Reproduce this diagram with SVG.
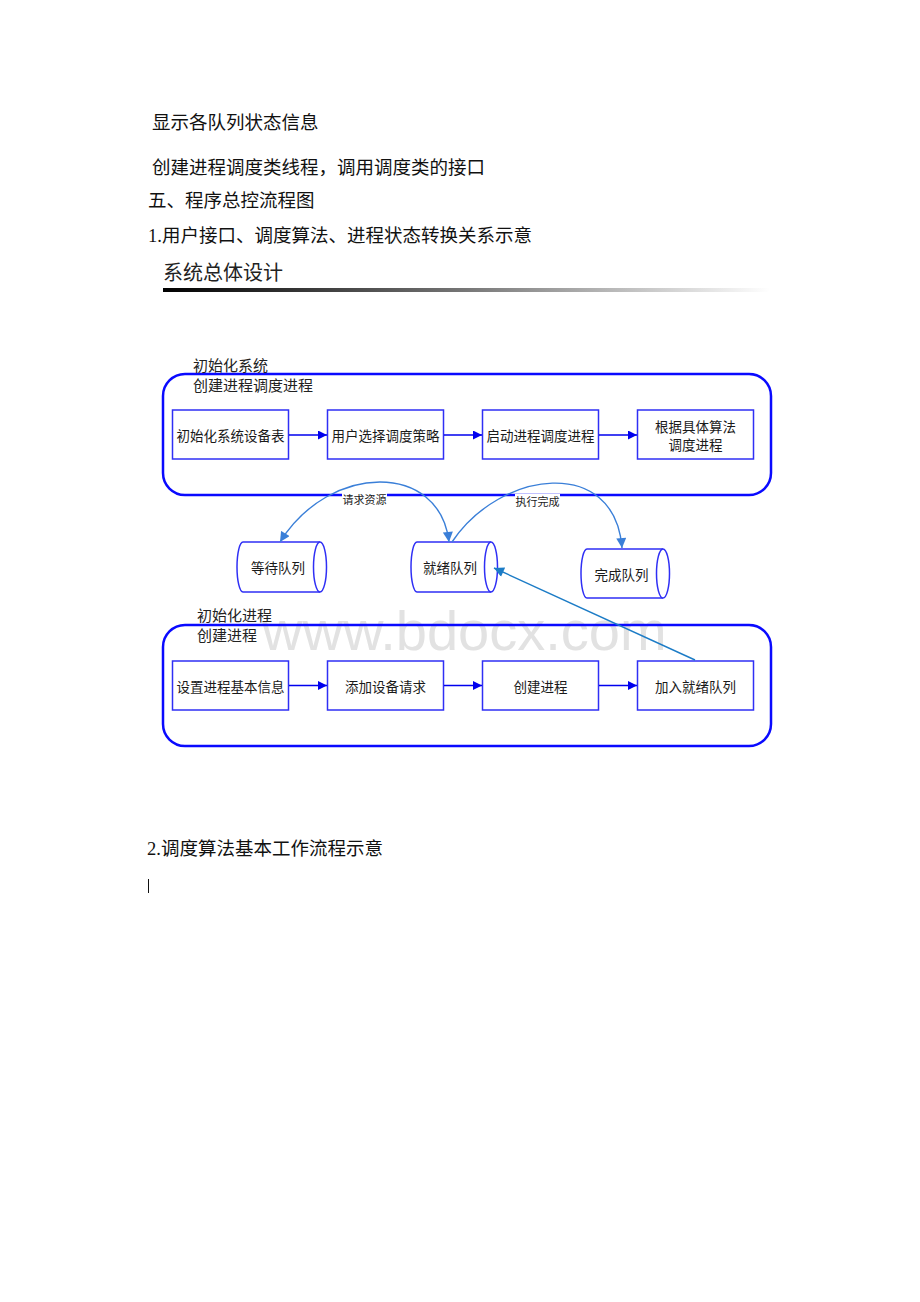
<svg xmlns="http://www.w3.org/2000/svg" width="920" height="1302" viewBox="0 0 920 1302">
<defs>
<linearGradient id="bar" x1="0" y1="0" x2="1" y2="0">
<stop offset="0" stop-color="#000"/>
<stop offset="0.5" stop-color="#777"/>
<stop offset="1" stop-color="#fff"/>
</linearGradient>
<marker id="ab" viewBox="0 0 10 10" refX="10" refY="5" markerWidth="9" markerHeight="9" markerUnits="userSpaceOnUse" orient="auto">
<path d="M0,0 L10,5 L0,10 Z" fill="#0000ee"/>
</marker>
<marker id="ac" viewBox="0 0 10 10" refX="10" refY="5" markerWidth="11" markerHeight="10" markerUnits="userSpaceOnUse" orient="auto-start-reverse">
<path d="M0,0 L10,5 L0,10 Z" fill="#3a7fd8"/>
</marker>
<marker id="as" viewBox="0 0 10 10" refX="10" refY="5" markerWidth="12" markerHeight="10" markerUnits="userSpaceOnUse" orient="auto">
<path d="M0,0 L10,5 L0,10 Z" fill="#1c7cc6"/>
</marker>
</defs>
<style>
.doc{font-family:"Liberation Serif","Noto Sans CJK SC",serif;font-size:18.5px;fill:#111}
.ttl{font-family:"Noto Sans CJK SC",sans-serif;font-size:20px;fill:#222}
.grp{font-family:"Noto Sans CJK SC",sans-serif;font-size:15px;fill:#222}
.lbl{font-family:"Noto Sans CJK SC",sans-serif;font-size:13.5px;fill:#1a1a1a;text-anchor:middle;dominant-baseline:central}
.sm{font-family:"Noto Sans CJK SC",sans-serif;font-size:11px;fill:#222;text-anchor:middle;dominant-baseline:central}
.outer{fill:none;stroke:#0a0aff;stroke-width:2.5}
.box{fill:#fff;stroke:#2f2ff5;stroke-width:1.5}
.cyl{fill:#fff;stroke:#2f2ff5;stroke-width:1.5}
.fl{fill:none;stroke:#0000ee;stroke-width:1.5}
.cv{fill:none;stroke:#3a7fd8;stroke-width:1.4}
.st{fill:none;stroke:#1c7cc6;stroke-width:1.4}
.wm{font-family:"Liberation Sans",sans-serif;font-size:56px;fill:#e2e2e2}
</style>
<rect width="920" height="1302" fill="#fff"/>

<g id="doc-text">
<text class="doc" x="152" y="129">显示各队列状态信息</text>
<text class="doc" x="152" y="173.5">创建进程调度类线程，调用调度类的接口</text>
<text class="doc" x="148" y="207">五、程序总控流程图</text>
<text class="doc" x="148" y="242">1.用户接口、调度算法、进程状态转换关系示意</text>
<text class="ttl" x="163" y="280">系统总体设计</text>
<rect x="163" y="288" width="607" height="4" fill="url(#bar)"/>
<text class="doc" x="147" y="855">2.调度算法基本工作流程示意</text>
<line x1="148.5" y1="879" x2="148.5" y2="893" stroke="#111" stroke-width="1"/>
</g>

<text class="wm" x="262" y="650">www.bdocx.com</text>

<g id="group-system">
<rect class="outer" x="163" y="374" width="608" height="121" rx="22"/>
<text class="grp" x="193" y="370.5">初始化系统</text>
<text class="grp" x="193" y="390.5">创建进程调度进程</text>
</g>
<g id="n-init-table"><rect class="box" x="172.5" y="410" width="116" height="49"/><text class="lbl" x="230.5" y="435">初始化系统设备表</text></g>
<g id="n-select"><rect class="box" x="327.5" y="410" width="116" height="49"/><text class="lbl" x="385.5" y="435">用户选择调度策略</text></g>
<g id="n-start"><rect class="box" x="482.5" y="410" width="116" height="49"/><text class="lbl" x="540.5" y="435">启动进程调度进程</text></g>
<g id="n-algo"><rect class="box" x="637.5" y="410" width="116" height="49"/><text class="lbl" x="695.5" y="425.5">根据具体算法</text><text class="lbl" x="695.5" y="443.5">调度进程</text></g>

<g id="group-process">
<rect class="outer" x="163" y="625" width="608" height="121" rx="22"/>
<text class="grp" x="197" y="620.5">初始化进程</text>
<text class="grp" x="197" y="640.5">创建进程</text>
</g>
<g id="n-setinfo"><rect class="box" x="172.5" y="661" width="116" height="49"/><text class="lbl" x="230.5" y="685.5">设置进程基本信息</text></g>
<g id="n-adddev"><rect class="box" x="327.5" y="661" width="116" height="49"/><text class="lbl" x="385.5" y="685.5">添加设备请求</text></g>
<g id="n-create"><rect class="box" x="482.5" y="661" width="116" height="49"/><text class="lbl" x="540.5" y="685.5">创建进程</text></g>
<g id="n-join"><rect class="box" x="637.5" y="661" width="116" height="49"/><text class="lbl" x="695.5" y="685.5">加入就绪队列</text></g>

<g id="q-wait">
<path class="cyl" d="M243,542 L320,542 A6.5,25 0 0 1 320,592 L243,592 A6,25 0 0 1 243,542 Z"/>
<path class="cyl" d="M320,542 A6.5,25 0 0 0 320,592"/>
<text class="lbl" x="278" y="567">等待队列</text>
</g>
<g id="q-ready">
<path class="cyl" d="M417,542 L491,542 A6.5,25 0 0 1 491,592 L417,592 A6,25 0 0 1 417,542 Z"/>
<path class="cyl" d="M491,542 A6.5,25 0 0 0 491,592"/>
<text class="lbl" x="450" y="567">就绪队列</text>
</g>
<g id="q-done">
<path class="cyl" d="M587,549 L663,549 A6.5,24.5 0 0 1 663,598 L587,598 A6,24.5 0 0 1 587,549 Z"/>
<path class="cyl" d="M663,549 A6.5,24.5 0 0 0 663,598"/>
<text class="lbl" x="621.5" y="573.5">完成队列</text>
</g>

<g id="connectors">
<line class="fl" x1="289" y1="435" x2="327" y2="435" marker-end="url(#ab)"/>
<line class="fl" x1="444" y1="435" x2="482" y2="435" marker-end="url(#ab)"/>
<line class="fl" x1="599" y1="435" x2="637" y2="435" marker-end="url(#ab)"/>
<line class="fl" x1="289" y1="685.5" x2="327" y2="685.5" marker-end="url(#ab)"/>
<line class="fl" x1="444" y1="685.5" x2="482" y2="685.5" marker-end="url(#ab)"/>
<line class="fl" x1="599" y1="685.5" x2="637" y2="685.5" marker-end="url(#ab)"/>
<path class="cv" d="M449,542 C440,462 330,462 280,542" marker-start="url(#ac)" marker-end="url(#ac)"/>
<path class="cv" d="M452,542 C500,470 615,455 622,548" marker-end="url(#ac)"/>
<line class="st" x1="695" y1="660" x2="494" y2="568" marker-end="url(#as)"/>
<rect x="342" y="492" width="45" height="14" fill="#fff"/>
<text class="sm" x="364.5" y="499">请求资源</text>
<rect x="515" y="494" width="45" height="14" fill="#fff"/>
<text class="sm" x="537.5" y="500.5">执行完成</text>
</g>
</svg>
